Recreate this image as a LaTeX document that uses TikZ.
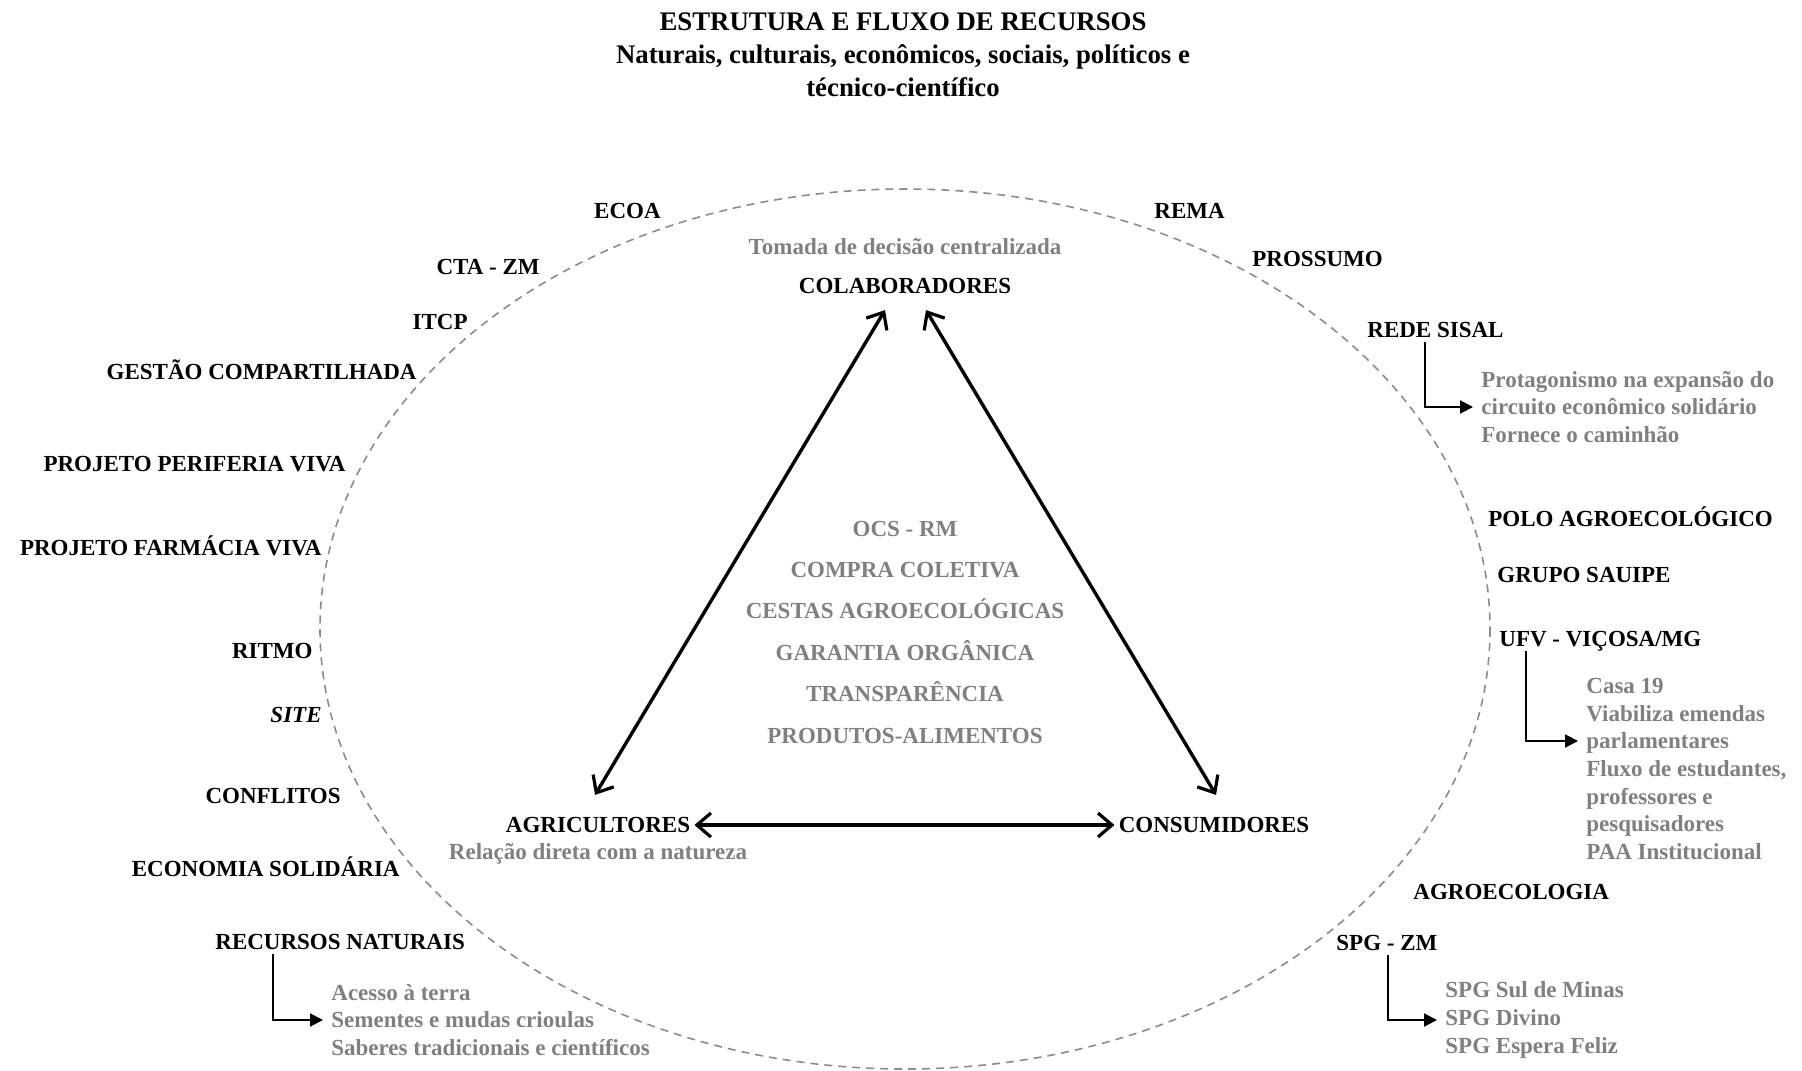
\documentclass[tikz,border=0pt]{standalone}
\usepackage{fontspec}
\setmainfont{Liberation Serif}
\usetikzlibrary{arrows.meta,calc}
\definecolor{softgray}{RGB}{128,128,128}
\definecolor{rimgray}{RGB}{140,140,140}
\tikzset{
%Define standard arrow tip
>={Straight Barb[length=7pt,width=12pt,line width=1.6pt]},
%Define styles for the texts
actor/.style={font=\fontsize{11.5}{13.8}\selectfont\bfseries, inner sep=2pt},
partner/.style={actor, text height=7.6pt, text depth=0pt},
note/.style={font=\fontsize{11.5}{13.8}\selectfont\bfseries, text=softgray, align=left, inner sep=0pt},
%Define styles for the lines
flow/.style={line width=1.7pt, <->},
branch/.style={line width=1pt, -{Triangle[length=6.5pt,width=6.5pt]}, shorten >=4pt},
rim/.style={dash pattern=on 4pt off 3pt, rimgray, line width=0.8pt},
}

\begin{document}
\begin{tikzpicture}[x=0.5pt,y=-0.5pt]
    \useasboundingbox (0,0) rectangle (1802,1070);

    % Title
    \node[font=\fontsize{13.4}{16.6}\selectfont\bfseries, align=center] (title) at (903,55)
    {ESTRUTURA E FLUXO DE RECURSOS\\Naturais, culturais, econômicos, sociais, políticos e\\técnico-científico};

    % Dashed boundary
    \draw[rim] (905,629) ellipse [x radius=585, y radius=440];

    % The three actors
    \node[actor] (colab) at (905,286) {COLABORADORES};
    \node[note] (colabnote) at (905,247) {Tomada de decisão centralizada};
    \node[actor] (agri) at (598,825) {AGRICULTORES};
    \node[note] (agrinote) at (598,854) {Relação direta com a natureza};
    \node[actor] (cons) at (1214,825) {CONSUMIDORES};

    \node[note, align=center, font=\fontsize{11.5}{20.7}\selectfont\bfseries] (core) at (905,632)
    {OCS - RM\\COMPRA COLETIVA\\CESTAS AGROECOLÓGICAS\\GARANTIA ORGÂNICA\\TRANSPARÊNCIA\\PRODUTOS-ALIMENTOS};

    \draw[flow] ($(agri.north)+(-3,-18)$) -- ($(colab.south)+(-20,12)$);
    \draw[flow] ($(colab.south)+(21,12)$) -- ($(cons.north)+(2,-18)$);
    \draw[flow] (agri.east) -- (cons.west);

    % Partners on the left
    \node[partner, anchor=east] (ecoa) at (665,211) {ECOA};
    \node[partner, anchor=east] (ctazm) at (544,267) {CTA - ZM};
    \node[partner, anchor=east] (itcp) at (472,322) {ITCP};
    \node[partner, anchor=east] (gestao) at (421,372) {GESTÃO COMPARTILHADA};
    \node[partner, anchor=east] (periferia) at (350,464) {PROJETO PERIFERIA VIVA};
    \node[partner, anchor=east] (farmacia) at (326,548) {PROJETO FARMÁCIA VIVA};
    \node[partner, anchor=east] (ritmo) at (317,651) {RITMO};
    \node[partner, anchor=east] (site) at (326,715) {\textit{SITE}};
    \node[partner, anchor=east] (conflitos) at (345,796) {CONFLITOS};
    \node[partner, anchor=east] (ecosol) at (404,869) {ECONOMIA SOLIDÁRIA};
    \node[partner, anchor=west] (recnat) at (211,942) {RECURSOS NATURAIS};

    % Partners on the right
    \node[partner, anchor=west] (rema) at (1150,211) {REMA};
    \node[partner, anchor=west] (prossumo) at (1248,259) {PROSSUMO};
    \node[partner, anchor=west] (sisal) at (1363,330) {REDE SISAL};
    \node[partner, anchor=west] (polo) at (1484,519) {POLO AGROECOLÓGICO};
    \node[partner, anchor=west] (sauipe) at (1493,575) {GRUPO SAUIPE};
    \node[partner, anchor=west] (ufv) at (1495,639) {UFV - VIÇOSA/MG};
    \node[partner, anchor=west] (agroeco) at (1409,892) {AGROECOLOGIA};
    \node[partner, anchor=west] (spgzm) at (1332,943) {SPG - ZM};

    % Details of some partners
    \node[note, anchor=west] (recnatlist) at (331,1020)
    {Acesso à terra\\Sementes e mudas crioulas\\Saberes tradicionais e científicos};
    \node[note, anchor=west] (sisallist) at (1481,407)
    {Protagonismo na expansão do\\circuito econômico solidário\\Fornece o caminhão};
    \node[note, anchor=west] (ufvlist) at (1586,769)
    {Casa 19\\Viabiliza emendas\\parlamentares\\Fluxo de estudantes,\\professores e\\pesquisadores\\PAA Institucional};
    \node[note, anchor=west] (spglist) at (1445,1020)
    {SPG Sul de Minas\\SPG Divino\\SPG Espera Feliz};

    \draw[branch] ($(recnat.south west)+(62,0)$) |- (recnatlist.west);
    \draw[branch] ($(sisal.south west)+(62,0)$) |- (sisallist.west);
    \draw[branch] ($(ufv.south west)+(31,0)$) |- ($(ufvlist.west)+(0,-28)$);
    \draw[branch] ($(spgzm.south west)+(56,0)$) |- (spglist.west);
\end{tikzpicture}
\end{document}
